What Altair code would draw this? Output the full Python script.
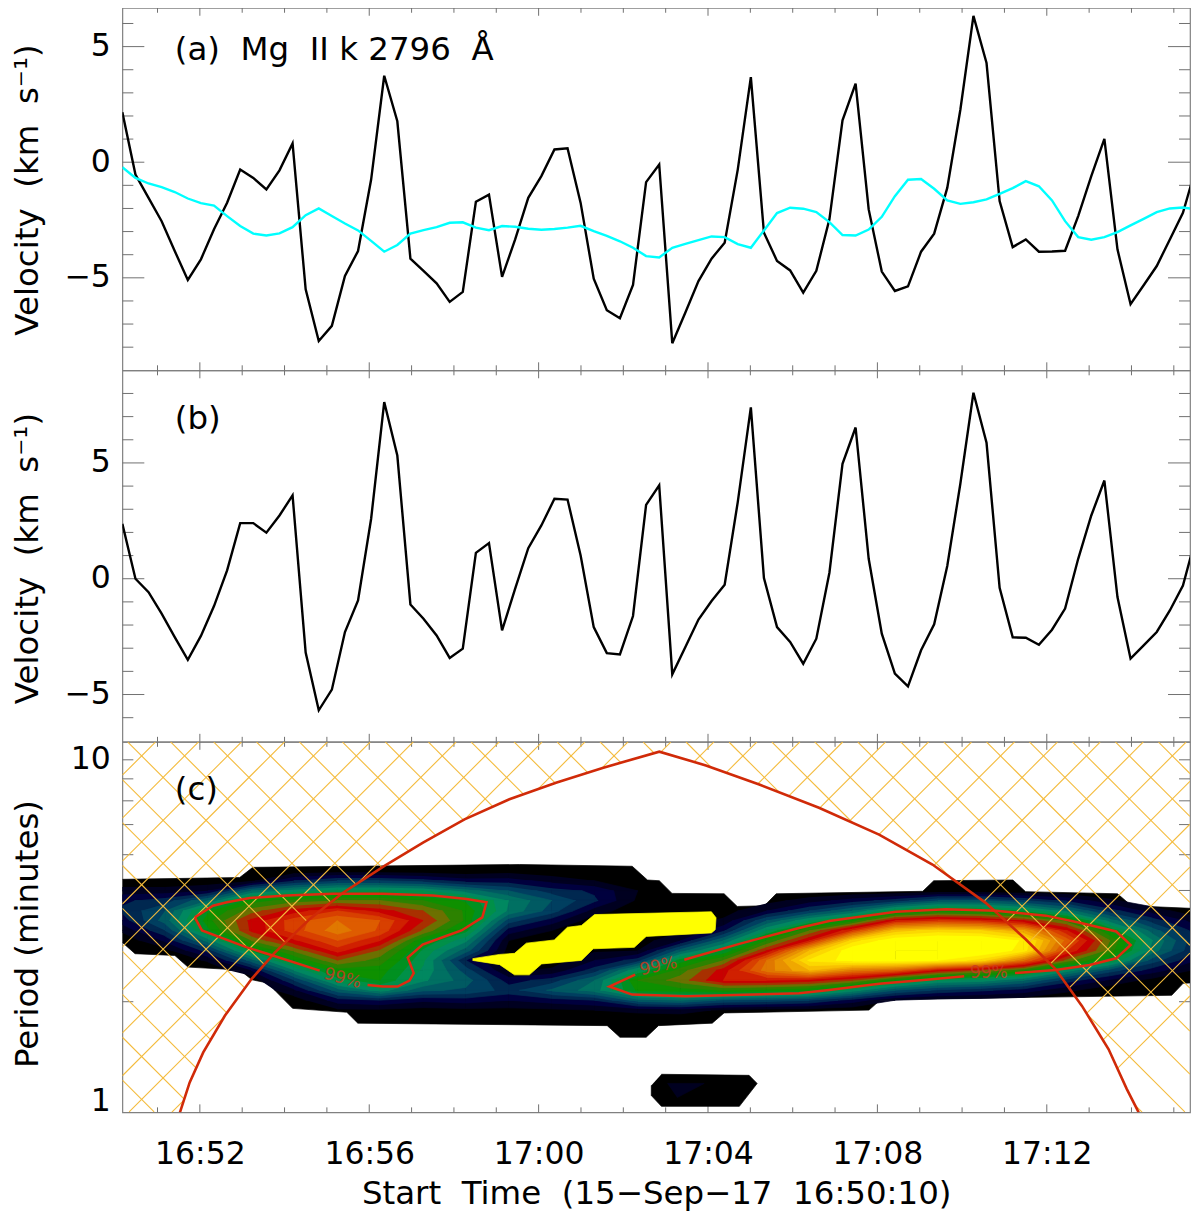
import altair as alt
import numpy as np
import pandas as pd

# ---- time base (minutes after 16:00) ----
t_start = 50.17
t_end = 75.382   # right edge of the visible axis
cadence = 0.3092

# ---- panel (a) ----
mg_black = [2.16,-0.53,-1.54,-2.55,-3.84,-5.09,-4.2,-2.9,-1.75,-0.32,-0.68,-1.18,-0.35,0.81,-5.5,-7.73,-7.08,-4.92,-3.84,-0.75,3.74,1.77,-4.17,-4.7,-5.24,-6.04,-5.61,-1.71,-1.4,-4.96,-3.34,-1.54,-0.6,0.55,0.6,-1.76,-5.04,-6.4,-6.75,-5.31,-0.86,-0.1,-7.83,-6.5,-5.14,-4.17,-3.48,-0.32,3.68,-3.05,-4.27,-4.68,-5.64,-4.7,-2.47,1.81,3.4,-2.04,-4.73,-5.57,-5.37,-3.87,-3.09,-1.11,2.27,6.33,4.29,-1.68,-3.67,-3.34,-3.87,-3.86,-3.83,-2.33,-0.6,1.01,-3.77,-6.14,-5.32,-4.49,-3.34,-2.19,-0.22]
mg_cyan = [-0.22,-0.68,-0.92,-1.08,-1.29,-1.57,-1.77,-1.88,-2.33,-2.76,-3.09,-3.17,-3.08,-2.81,-2.29,-2.0,-2.33,-2.65,-2.95,-3.4,-3.87,-3.58,-3.09,-2.94,-2.81,-2.62,-2.6,-2.83,-2.94,-2.76,-2.79,-2.88,-2.92,-2.89,-2.83,-2.75,-2.98,-3.19,-3.42,-3.7,-4.06,-4.12,-3.7,-3.53,-3.37,-3.21,-3.24,-3.54,-3.7,-2.95,-2.2,-1.97,-2.01,-2.16,-2.59,-3.15,-3.17,-2.91,-2.36,-1.47,-0.76,-0.73,-1.15,-1.65,-1.8,-1.73,-1.61,-1.37,-1.12,-0.82,-1.04,-1.65,-2.55,-3.24,-3.35,-3.24,-3.02,-2.73,-2.45,-2.16,-2.0,-1.96,-2.04]

# ---- panel (b) ----
detrended = [2.37,0,-0.58,-1.51,-2.52,-3.5,-2.47,-1.18,0.36,2.4,2.4,1.99,2.73,3.6,-3.19,-5.68,-4.79,-2.3,-0.94,2.59,7.63,5.32,-1.11,-1.73,-2.45,-3.42,-3.02,1.12,1.54,-2.23,-0.43,1.32,2.3,3.45,3.42,1.0,-2.09,-3.21,-3.27,-1.61,3.19,4.03,-4.13,-2.95,-1.76,-0.96,-0.26,3.31,7.4,0.03,-2.09,-2.73,-3.67,-2.59,0.26,4.96,6.53,0.86,-2.37,-4.1,-4.65,-3.09,-1.97,0.55,4.1,8.03,5.87,-0.39,-2.53,-2.55,-2.85,-2.2,-1.29,0.86,2.73,4.24,-0.79,-3.45,-2.88,-2.3,-1.37,-0.29,1.8]

# ---- panel (c): wavelet power read on a coarse grid ----
grid_minutes = [50.17,51.18,52.19,53.21,54.22,55.24,56.25,57.27,58.28,59.29,60.31,61.32,62.34,63.35,64.36,65.38,66.39,67.41,68.42,69.43,70.45,71.46,72.48,73.49,74.50,75.53]
grid_periods = [4.85,4.54,4.25,3.99,3.73,3.50,3.28,3.07,2.88,2.70,2.53,2.37,2.22,2.08,1.95,1.82]
power_by_column = [
 [0,.2,1.5,2.8,3.2,2.5,1.2,.2,0,0,0,0,0,0,0,0],
 [0,.2,1.5,3.5,5,5.5,4,2.2,.6,0,0,0,0,0,0,0],
 [0,.3,2,6,9.8,10.6,9.7,6.5,3.5,1.2,.1,0,0,0,0,0],
 [.1,.8,6,10.5,12.5,14.3,14.2,12,9.2,5.5,2,.2,0,0,0,0],
 [.3,3,7.5,11.5,14.5,16.5,16.5,14.8,12.2,10,7,4,1.8,.4,0,0],
 [.4,4,8.5,12,16,18,18.6,17,15.5,13,10.5,8.5,5.5,2.5,.8,.2],
 [.4,4,8.5,12,14.5,17,16.8,15,12.8,11.5,10.5,10,7.5,3,.8,.1],
 [.3,3.5,8,11,13,14,12.8,10,8.8,8.2,7.8,7.2,5.2,2.2,.6,.1],
 [.2,2.5,6.5,9.8,10.8,10.8,9.3,7.2,5.5,3,4.5,5.5,4.8,2.5,.7,.1],
 [.5,2.5,5,7,6.8,4.5,2.5,1,.6,.5,.8,2.5,3.6,2,.7,.1],
 [.3,1.6,3.5,5,4.5,2.5,1,.4,.3,.4,1.2,3.5,5.2,2.5,.8,.2],
 [.2,1,2.8,3.2,1.5,.3,.2,.3,.8,2,3.5,6,6.5,3,1,.3],
 [0,.3,1,.8,.3,.2,.2,.4,1,3.5,8,11,10.2,5.5,1.3,.2],
 [0,0,0,.1,.3,.5,.8,2,5.5,9.5,11.5,12.5,10.5,6,1.5,.1],
 [0,0,0,.2,.5,1.2,2.8,6,9,12,14.5,15,11,4.8,.8,0],
 [0,0,0,.6,2,5,8,11,14,18,18.5,15,10.5,4.5,.6,0],
 [0,0,0,1.5,4,8,12,15,21,23.2,21,14.5,10,4,.5,0],
 [0,0,.1,2.5,6,10.5,16,22.5,25,24.5,18.5,13,7.5,2.5,.3,0],
 [0,0,.1,3.5,9,15,21.5,25,25.5,24.5,17.5,10,5,1,.1,0],
 [0,0,.4,5,10.5,16,22.5,25.5,25.5,24,14.5,8,3.8,.6,0,0],
 [0,0,.4,5,10,15.5,22,25.5,25.3,22.5,13,7.5,3.2,.5,0,0],
 [0,0,.2,4,8.8,14,20,23.8,23.5,18,11,6,2.5,.4,0,0],
 [0,0,.1,2.8,6.5,11.5,15,17.5,16,12.5,7.5,3.5,1.2,.1,0,0],
 [0,0,0,1.2,3.5,6.5,9.8,12,11.5,9.2,4.5,1.8,.3,0,0,0],
 [0,0,0,.2,1.5,3.5,5.5,7,6.5,4.5,2.5,.6,0,0,0,0],
 [0,0,0,0,.3,1.5,2.5,3.2,3,2,.8,.2,0,0,0,0],
]
palette = ["#000000","#000020","#00003e","#002850","#003f60","#005a62","#007062","#008860","#009048","#009020",
           "#0e9000","#2c8200","#6c7000","#a83000","#c80000","#d02000","#d84000","#de5c00","#e07800","#e89000",
           "#f0a800","#f8c000","#fcd800","#ffec00","#ffff00"]

# outer (lowest level) boundary: minutes, log10(period)
outline_m = [50.17,52.94,53.25,59.55,62.21,62.57,62.85,63.15,64.38,64.69,65.33,65.61,69.07,69.33,71.20,71.50,73.67,74.0,75.53,
             75.53,75.22,74.95,68.08,67.80,64.38,64.10,62.83,62.54,61.92,61.62,55.73,55.47,54.19,53.60,53.23,52.94,51.72,51.41,50.47,50.17]
outline_l = [.661,.666,.695,.703,.698,.659,.657,.621,.620,.584,.586,.620,.627,.657,.659,.626,.620,.586,.578,
             .368,.366,.332,.320,.290,.282,.253,.246,.213,.213,.246,.253,.284,.295,.367,.376,.404,.412,.445,.450,.482]
plateau_m = [58.44,59.08,59.43,59.71,60.37,60.68,61.01,61.32,64.08,64.19,64.17,64.08,62.54,62.26,61.29,61.01,60.07,59.78,59.43,59.08,58.44]
plateau_l = [.436,.448,.451,.480,.489,.525,.530,.561,.569,.552,.518,.509,.499,.468,.464,.431,.421,.390,.390,.419,.431]
patch_m = [62.90,64.97,65.16,64.74,62.90,62.66,62.66]
patch_l = [.108,.105,.082,.017,.017,.048,.076]
patch_core_m = [63.04,63.91,63.27]
patch_core_l = [.082,.082,.042]

# 99% significance contours
sig_left_a_m = [51.88,52.31,52.64,53.18,54.05,55.14,56.32,57.50,58.30,58.77,58.67,58.18,57.83,57.26,56.91,57.05,56.95,56.67,56.32,55.96]
sig_left_a_l = [.553,.586,.596,.608,.615,.620,.620,.615,.605,.596,.553,.516,.501,.476,.439,.395,.374,.357,.357,.361]
sig_left_b_m = [54.83,53.72,53.11,52.05,51.88]
sig_left_b_l = [.402,.445,.468,.516,.553]
sig_right_a_m = [63.44,64.74,66.15,66.86,68.44,69.62,70.80,71.98,72.78,73.64,73.98,73.64,73.01,72.21,71.25]
sig_right_a_l = [.433,.478,.523,.543,.569,.576,.572,.558,.538,.513,.475,.437,.418,.404,.395]
sig_right_b_m = [70.05,69.22,68.04,66.86,66.15,63.48,62.21,61.67,62.28]
sig_right_b_l = [.386,.377,.365,.347,.338,.329,.334,.357,.391]

# cone of influence
coi_m = [51.53,51.76,52.08,52.59,53.22,53.77,54.59,55.38,56.36,57.27,58.25,59.31,60.41,61.51,62.85,63.95,65.21,66.62,68.04,69.30,70.55,71.50,72.21,72.83,73.46,73.89,74.17]
coi_l = [0,.085,.170,.274,.378,.453,.548,.623,.699,.765,.831,.888,.935,.977,1.023,.984,.930,.864,.788,.703,.595,.491,.406,.302,.179,.066,0]

# tick positions
x_major = [52,56,60,64,68,72]
x_minor = [51,53,54,55,57,58,59,61,62,63,65,66,67,69,70,71,73,74,75]
a_major = [-5,0,5]
a_minor = [-8,-7,-6,-4,-3,-2,-1,1,2,3,4,6]
b_major = [-5,0,5]
b_minor = [-6,-4,-3,-2,-1,1,2,3,4,6,7,8]
c_minor = [10,8.83,7.65,6.55,5.38,4.26,2.06]
c_labels = [1.07,10]

FONT = "DejaVu Sans"
FS = 31.5
TITLE_FS = 32.5
W = 1069
H_A, H_B, H_C = 363, 372, 371
TICK = "#707070"
NB = "\u00a0"
period_top = 11.245

x_scale = alt.Scale(domain=[t_start, t_end], nice=False, zero=False)
ya_scale = alt.Scale(domain=[-9, 6.68], nice=False, zero=False)
yb_scale = alt.Scale(domain=[-7.043, 9], nice=False, zero=False)
yc_scale = alt.Scale(type="log", domain=[1, period_top], nice=False)
times = t_start + cadence * np.arange(len(mg_black))


def tick_layers(x_ax, y_ax, y_scale, y_major, y_minor, h):
    layers = []
    for vals, ln in ((x_major, 8), (x_minor, 5)):
        d = pd.DataFrame({"m": vals})
        for y0, y1 in ((0, ln), (h, h - ln)):
            layers.append(alt.Chart(d).mark_rule(color=TICK, strokeWidth=1).encode(
                x=alt.X("m:Q", scale=x_scale, axis=x_ax, title=None if x_ax is None else x_ax.title),
                y=alt.value(y0), y2=alt.value(y1)))
    for vals, ln in ((y_major, 22), (y_minor, 11)):
        if not vals:
            continue
        d = pd.DataFrame({"v": vals})
        for x0, x1 in ((0, ln), (W, W - ln)):
            layers.append(alt.Chart(d).mark_rule(color=TICK, strokeWidth=1).encode(
                y=alt.Y("v:Q", scale=y_scale, axis=y_ax, title=y_ax.title),
                x=alt.value(x0), x2=alt.value(x1)))
    return layers


def label_layer(text, y):
    return alt.Chart(pd.DataFrame({"a": [0]})).mark_text(
        text=text, font=FONT, fontSize=TITLE_FS, align="left", baseline="middle", color="black"
    ).encode(x=alt.value(52.5), y=alt.value(y))


def y_axis(title, values, title_y, label_expr=None):
    kw = dict(title=title, values=values, grid=False, domain=False, ticks=False,
              labelFont=FONT, labelFontSize=FS, labelColor="black", labelPadding=12,
              labelFontWeight="normal", titleFont=FONT, titleFontSize=TITLE_FS, titleFontWeight="normal",
              titleColor="black", titleX=-78, titleY=title_y, titleAlign="center", titleAnchor="middle",
              labelOverlap=False)
    if label_expr:
        kw["labelExpr"] = label_expr
    return alt.Axis(**kw)


def series_line(values, color, y_scale, axis):
    d = pd.DataFrame({"minute": times, "v": values})
    return alt.Chart(d).mark_line(color=color, strokeWidth=2.4, clip=True).encode(
        x=alt.X("minute:Q", scale=x_scale, axis=None),
        y=alt.Y("v:Q", scale=y_scale, axis=axis, title=axis.title),
    )


velocity_title = f"Velocity{NB} (km{NB} s⁻¹)"
axis_a = y_axis(velocity_title, [-5, 0, 5], 182)
axis_b = y_axis(velocity_title, [-5, 0, 5], 188)

panel_a = alt.layer(
    *tick_layers(None, axis_a, ya_scale, a_major, a_minor, H_A),
    series_line(mg_black, "black", ya_scale, axis_a),
    series_line(mg_cyan, "#00ffff", ya_scale, axis_a),
    label_layer(f"(a){NB} Mg{NB} II k 2796{NB} Å", 42),
).properties(width=W, height=H_A)

panel_b = alt.layer(
    *tick_layers(None, axis_b, yb_scale, b_major, b_minor, H_B),
    series_line(detrended, "black", yb_scale, axis_b),
    label_layer("(b)", 49),
).properties(width=W, height=H_B)


# ---- filled contour polygons ----
def clip_cell(corners, vals, level):
    out = []
    for i in range(4):
        p, v = corners[i], vals[i]
        q, w = corners[(i + 1) % 4], vals[(i + 1) % 4]
        if v >= level:
            out.append(p)
        if (v >= level) != (w >= level):
            f = (level - v) / (w - v)
            out.append((p[0] + f * (q[0] - p[0]), p[1] + f * (q[1] - p[1])))
    return out


rows = []
poly_id = 0


def add_poly(points, level):
    global poly_id
    for k, (m, l) in enumerate(points):
        rows.append({"poly": poly_id, "vertex": k, "minute": round(float(m), 3),
                     "period": round(float(10 ** l), 4), "level": level})
    poly_id += 1


add_poly(list(zip(outline_m, outline_l)), 0)
add_poly(list(zip(patch_m, patch_l)), 0)
add_poly(list(zip(patch_core_m, patch_core_l)), 1)

grid = np.array(power_by_column, dtype=float)
row_logs = np.log10(grid_periods)
for level in range(1, 25):
    for i in range(len(grid_minutes) - 1):
        for j in range(len(grid_periods) - 1):
            corners = [(grid_minutes[i], row_logs[j]), (grid_minutes[i + 1], row_logs[j]),
                       (grid_minutes[i + 1], row_logs[j + 1]), (grid_minutes[i], row_logs[j + 1])]
            vals = [grid[i, j], grid[i + 1, j], grid[i + 1, j + 1], grid[i, j + 1]]
            if max(vals) < level:
                continue
            if level < 24 and min(vals) >= level + 1:
                continue
            pts = clip_cell(corners, vals, level)
            if len(pts) >= 3:
                add_poly(pts, level)
add_poly(list(zip(plateau_m, plateau_l)), 24)
poly_df = pd.DataFrame(rows)

x_axis = alt.Axis(
    title=f"Start{NB} Time{NB} (15−Sep−17{NB} 16:50:10)", values=x_major, grid=False, domain=False, ticks=False,
    labelFont=FONT, labelFontSize=FS, labelColor="black", labelPadding=26, labelFontWeight="normal",
    labelExpr="(16 + floor(datum.value / 60)) + ':' + format(datum.value % 60, '02d')",
    titleFont=FONT, titleFontSize=TITLE_FS, titleFontWeight="normal", titleColor="black", titlePadding=8,
    labelOverlap=False,
)
axis_c = y_axis("Period (minutes)", c_labels, 192, "datum.value < 2 ? '1' : '10'")
cx = alt.X("minute:Q", scale=x_scale, axis=x_axis, title=x_axis.title)
cy = alt.Y("period:Q", scale=yc_scale, axis=axis_c, title=axis_c.title)

contours = alt.Chart(poly_df).mark_line(strokeWidth=0.7, clip=True).encode(
    x=cx, y=cy,
    fill=alt.Fill("level:N", scale=alt.Scale(domain=list(range(25)), range=palette), legend=None),
    stroke=alt.Stroke("level:N", scale=alt.Scale(domain=list(range(25)), range=palette), legend=None),
    detail="poly:N",
    order="vertex:Q",
)

# ---- hatching outside the cone of influence ----
hatch_anchor_m, hatch_anchor_l = 50.625, 1.011
hatch_slope, hatch_gap = 0.1201, 0.1218
top_l = np.log10(period_top)
samples = np.arange(t_start, t_end + 0.005, 0.01)
hatch_rows = []
seg = 0
for sign in (-1, 1):
    for n in range(-30, 30):
        L = hatch_anchor_l + sign * hatch_slope * (samples - hatch_anchor_m) + n * hatch_gap
        keep = (L >= 0) & (L <= top_l) & (L > np.interp(samples, coi_m, coi_l, left=-1, right=-1))
        idx = np.flatnonzero(keep)
        if idx.size == 0:
            continue
        for run in np.split(idx, np.flatnonzero(np.diff(idx) > 1) + 1):
            if run.size < 2:
                continue
            for k, r in enumerate((run[0], run[-1])):
                hatch_rows.append({"seg": seg, "k": k, "minute": samples[r], "period": 10 ** L[r]})
            seg += 1
hatch = alt.Chart(pd.DataFrame(hatch_rows)).mark_line(color="#f4bb3c", strokeWidth=1.1, clip=True).encode(
    x=cx, y=cy, detail="seg:N", order="k:Q",
)

# ---- red lines ----
sig_rows = []
for s, (ms, ls) in enumerate(((sig_left_a_m, sig_left_a_l), (sig_left_b_m, sig_left_b_l),
                              (sig_right_a_m, sig_right_a_l), (sig_right_b_m, sig_right_b_l))):
    for k, (m, l) in enumerate(zip(ms, ls)):
        sig_rows.append({"seg": s, "k": k, "minute": m, "period": 10 ** l})
sig = alt.Chart(pd.DataFrame(sig_rows)).mark_line(color="#e02a10", strokeWidth=2.5, clip=True).encode(
    x=cx, y=cy, detail="seg:N", order="k:Q",
)
coi_df = pd.DataFrame({"minute": coi_m, "period": 10 ** np.array(coi_l), "k": range(len(coi_m))})
coi = alt.Chart(coi_df).mark_line(color="#d02a08", strokeWidth=2.6, clip=True).encode(
    x=cx, y=cy, order="k:Q",
)

sig_labels = []
for m, l, ang in ((55.37, .380, 15), (62.83, .414, 348), (70.63, .394, 0)):
    sig_labels.append(alt.Chart(pd.DataFrame({"minute": [m], "period": [10 ** l]})).mark_text(
        text="99%", font=FONT, fontSize=17, angle=ang, color="#c83a20", align="center", baseline="middle", opacity=0.85
    ).encode(x=cx, y=cy))

panel_c = alt.layer(
    *tick_layers(x_axis, axis_c, yc_scale, [], c_minor, H_C),
    contours, hatch, coi, sig, *sig_labels,
    label_layer("(c)", 48),
).properties(width=W, height=H_C)

chart = alt.vconcat(panel_a, panel_b, panel_c, spacing=0, bounds="flush").properties(
    padding={"left": 2.5, "top": -3, "right": 0, "bottom": 0}, background="white"
).configure_view(stroke="#808080", strokeWidth=1.2)

chart.save("out.html", embed_options={"renderer": "svg", "actions": False})
